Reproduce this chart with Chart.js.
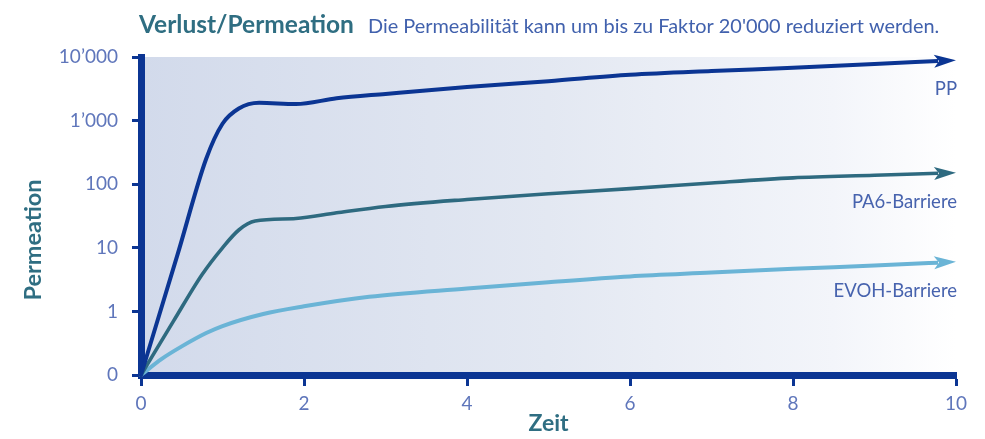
<!DOCTYPE html>
<html><head><meta charset="utf-8">
<script src="https://cdn.jsdelivr.net/npm/chart.js@4/dist/chart.umd.min.js"></script>
<style>html,body{margin:0;padding:0;background:#fff}#wrap{width:985px;height:439px;position:relative}</style>
</head><body><div id="wrap"><canvas id="c" width="985" height="439"></canvas></div>
<script>
// ---- data (y values are decade levels: 0 -> "0", 1 -> "1", 2 -> "10", ... 5 -> "10'000") ----
const titleText = 'Verlust/Permeation';
const subtitleText = "Die Permeabilität kann um bis zu Faktor 20'000 reduziert werden.";
const xAxisTitle = 'Zeit';
const yAxisTitle = 'Permeation';
const yTickLabels = ['0', '1', '10', '100', '1\u2019000', '10\u2019000'];
const seriesNames = ['PP', 'PA6-Barriere', 'EVOH-Barriere'];

const ppX = [0, 0.45, 0.8, 1.0, 1.2, 1.45, 1.9, 2.4, 3.0, 4.0, 5.0, 6.0, 7.0, 8.0, 9.0, 10];
const ppY = [0, 1.9, 3.4, 3.95, 4.19, 4.28, 4.26, 4.35, 4.42, 4.53, 4.62, 4.72, 4.78, 4.83, 4.89, 4.95];

const pa6X = [0, 0.4, 0.75, 1.0, 1.2, 1.4, 1.9, 2.4, 3.0, 4.0, 5.0, 6.0, 7.0, 8.0, 9.0, 10];
const pa6Y = [0, 0.85, 1.58, 2.0, 2.28, 2.42, 2.46, 2.55, 2.65, 2.76, 2.85, 2.93, 3.02, 3.1, 3.14, 3.18];

const evohX = [0, 0.25, 0.5, 0.8, 1.0, 1.5, 2.0, 2.8, 4.0, 5.0, 6.0, 7.0, 8.0, 9.0, 10];
const evohY = [0, 0.25, 0.45, 0.66, 0.77, 0.96, 1.08, 1.23, 1.36, 1.46, 1.55, 1.61, 1.67, 1.72, 1.78];

const seriesColors = ['#0b3593', '#2e6a80', '#6ab4d6'];
const seriesWidths = [4, 3.6, 4];

const FONT = 'Lato, "Open Sans", sans-serif';
const AXIS_COLOR = '#0b3593';
const TICK_TEXT = '#5f76bb';
const TEAL = '#2f6e82';

function pts(xs, ys) { return xs.map((x, i) => ({ x: x, y: ys[i] })); }

const ARROW_LEN = 22, ARROW_HALF = 6.5;

const bgPlugin = {
  id: 'bg',
  beforeDraw(chart) {
    const { ctx, chartArea: a } = chart;
    const g = ctx.createLinearGradient(a.left, 0, a.right, 0);
    g.addColorStop(0, '#d2daeb');
    g.addColorStop(0.5, '#e3e8f2');
    g.addColorStop(0.85, '#f3f5fa');
    g.addColorStop(1, '#ffffff');
    ctx.save();
    ctx.fillStyle = g;
    ctx.fillRect(a.left, a.top, a.right - a.left, a.bottom - a.top);
    ctx.restore();
  }
};

const arrowPlugin = {
  id: 'arrows',
  beforeDatasetDraw(chart, args) {
    const meta = args.meta;
    const last = meta.data[meta.data.length - 1];
    const ctx = chart.ctx;
    ctx.save();
    ctx.beginPath();
    ctx.rect(0, 0, last.x - ARROW_LEN + 4, chart.height);
    ctx.clip();
  },
  afterDatasetDraw(chart, args) {
    const ctx = chart.ctx;
    ctx.restore();
    const meta = args.meta;
    const ds = chart.data.datasets[args.index];
    const n = meta.data.length;
    const tip = meta.data[n - 1], prev = meta.data[n - 2];
    let dx = tip.x - prev.x, dy = tip.y - prev.y;
    const len = Math.hypot(dx, dy); dx /= len; dy /= len;
    const bx = tip.x - dx * ARROW_LEN, by = tip.y - dy * ARROW_LEN;
    const px = -dy, py = dx;
    ctx.save();
    ctx.fillStyle = ds.borderColor;
    ctx.beginPath();
    ctx.moveTo(tip.x, tip.y);
    ctx.lineTo(bx + px * ARROW_HALF, by + py * ARROW_HALF);
    ctx.lineTo(bx + dx * 5, by + dy * 5);
    ctx.lineTo(bx - px * ARROW_HALF, by - py * ARROW_HALF);
    ctx.closePath();
    ctx.fill();
    // series label under the arrow
    ctx.fillStyle = '#4763ae';
    ctx.font = '18.5px ' + FONT;
    ctx.textAlign = 'right';
    ctx.textBaseline = 'alphabetic';
    ctx.fillText(ds.label, tip.x + 1, tip.y + 35);
    ctx.restore();
  }
};

const textPlugin = {
  id: 'texts',
  afterDraw(chart) {
    const ctx = chart.ctx;
    ctx.save();
    ctx.textBaseline = 'alphabetic';
    ctx.textAlign = 'left';
    ctx.fillStyle = TEAL;
    ctx.font = 'bold 24.5px ' + FONT;
    ctx.fillText(titleText, 139, 33);
    ctx.fillStyle = '#4161ad';
    ctx.font = '19.9px ' + FONT;
    ctx.fillText(subtitleText, 368, 33);
    // y axis title
    ctx.translate(33, 240);
    ctx.rotate(-Math.PI / 2);
    ctx.textAlign = 'center';
    ctx.textBaseline = 'middle';
    ctx.fillStyle = TEAL;
    ctx.font = 'bold 23.5px ' + FONT;
    ctx.fillText(yAxisTitle, 0, 0);
    ctx.restore();
  }
};

const datasets = [
  { label: seriesNames[0], data: pts(ppX, ppY) },
  { label: seriesNames[1], data: pts(pa6X, pa6Y) },
  { label: seriesNames[2], data: pts(evohX, evohY) }
].map((d, i) => Object.assign(d, {
  borderColor: seriesColors[i],
  backgroundColor: seriesColors[i],
  borderWidth: seriesWidths[i],
  pointRadius: 0,
  fill: false,
  cubicInterpolationMode: 'monotone',
  clip: false,
  borderCapStyle: 'round'
}));

new Chart(document.getElementById('c'), {
  type: 'line',
  data: { datasets: datasets },
  options: {
    responsive: false,
    devicePixelRatio: 1,
    animation: false,
    layout: { padding: { left: 0, right: 29, top: 57, bottom: 0 } },
    plugins: { legend: { display: false }, tooltip: { enabled: false }, title: { display: false } },
    scales: {
      x: {
        type: 'linear', min: 0, max: 10,
        afterFit(s) { s.height = 64; },
        ticks: { stepSize: 2, color: TICK_TEXT, font: { family: FONT, size: 19 }, padding: 6, maxRotation: 0 },
        grid: { display: true, drawOnChartArea: false, drawTicks: true, tickLength: 11, tickWidth: 3, tickColor: AXIS_COLOR },
        border: { display: true, color: AXIS_COLOR, width: 7 },
        title: { display: true, text: xAxisTitle, color: TEAL, font: { family: FONT, size: 23, weight: 'bold' }, padding: { top: 0, bottom: 2 } }
      },
      y: {
        type: 'linear', min: 0, max: 5,
        afterFit(s) { s.width = 141; },
        ticks: { stepSize: 1, color: TICK_TEXT, font: { family: FONT, size: 19 }, padding: 14,
          callback: (v) => yTickLabels[v] },
        grid: { display: true, drawOnChartArea: false, drawTicks: true, tickLength: 9, tickWidth: 3, tickColor: AXIS_COLOR },
        border: { display: true, color: AXIS_COLOR, width: 7 }
      }
    }
  },
  plugins: [bgPlugin, arrowPlugin, textPlugin]
});
</script></body></html>
